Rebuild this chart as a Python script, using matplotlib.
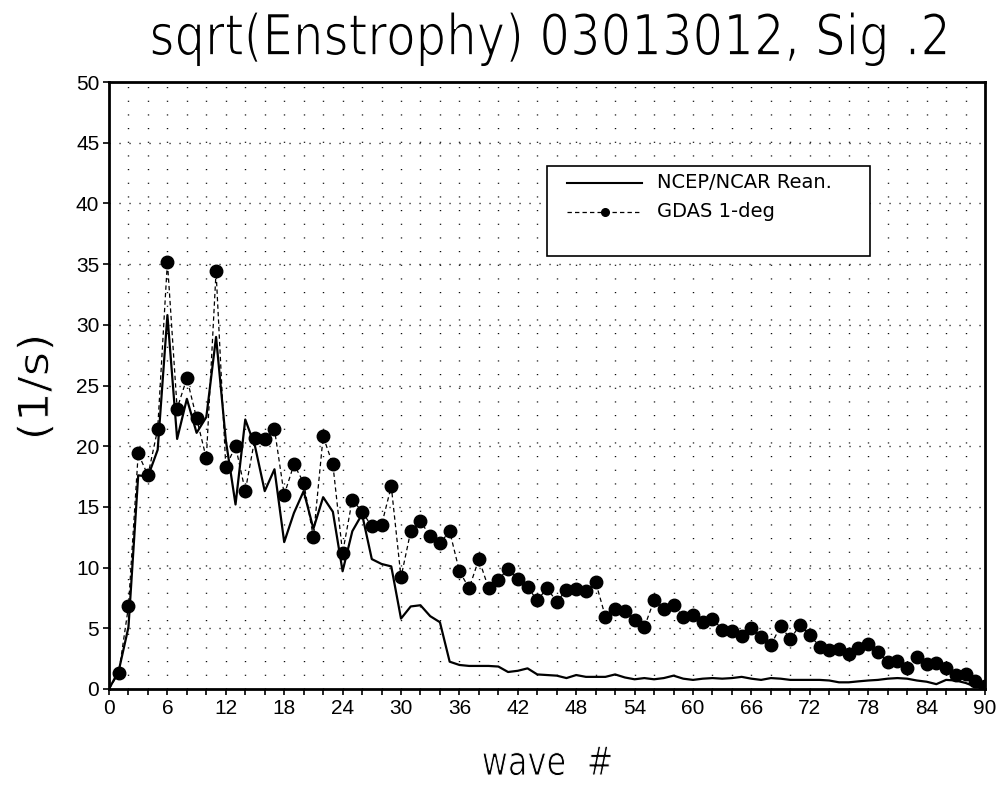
import matplotlib
matplotlib.use("Agg")
import matplotlib.pyplot as plt
from matplotlib import font_manager
from matplotlib.patches import Rectangle, PathPatch
from matplotlib.textpath import TextPath
from matplotlib.font_manager import FontProperties
from matplotlib.transforms import Affine2D, IdentityTransform

names = {f.name for f in font_manager.fontManager.ttflist}
REG = "Liberation Sans" if "Liberation Sans" in names else "DejaVu Sans"

# ── Data ──────────────────────────────────────────────────────────────────────
wave = list(range(0, 91))
ncep = [0, 1.5, 5.1, 17.6, 17.5, 19.7, 30.8, 20.6, 23.9, 21.1,
        22.4, 29.0, 20.5, 15.2, 22.2, 20.0, 16.3, 18.1, 12.1, 14.5,
        16.3, 13.2, 15.8, 14.6, 9.7, 13.0, 14.4, 10.7, 10.3, 10.1,
        5.8, 6.8, 6.9, 6.0, 5.5, 2.25, 1.98, 1.9, 1.9, 1.9,
        1.85, 1.4, 1.5, 1.7, 1.2, 1.15, 1.1, 0.9, 1.15, 1.0,
        1.0, 1.0, 1.2, 0.95, 0.8, 0.9, 0.8, 0.9, 1.1, 0.85,
        0.75, 0.85, 0.9, 0.85, 0.9, 1.0, 0.85, 0.75, 0.9, 0.85,
        0.75, 0.75, 0.75, 0.75, 0.7, 0.55, 0.55, 0.63, 0.7, 0.75,
        0.85, 0.9, 0.85, 0.7, 0.6, 0.4, 0.75, 0.7, 0.5, 0.2,
        0.0]
gdas = [0, 1.3, 6.8, 19.4, 17.6, 21.4, 35.2, 23.1, 25.6, 22.3,
        19.0, 34.4, 18.3, 20.0, 16.3, 20.7, 20.6, 21.4, 16.0, 18.5,
        17.0, 12.5, 20.8, 18.5, 11.2, 15.6, 14.6, 13.4, 13.5, 16.7,
        9.2, 13.0, 13.8, 12.6, 12.0, 13.0, 9.7, 8.3, 10.7, 8.3,
        9.0, 9.9, 9.1, 8.4, 7.3, 8.3, 7.2, 8.15, 8.2, 8.07,
        8.8, 5.96, 6.6, 6.4, 5.7, 5.1, 7.3, 6.6, 6.9, 5.96,
        6.1, 5.5, 5.8, 4.9, 4.8, 4.4, 5.0, 4.25, 3.6, 5.2,
        4.1, 5.3, 4.45, 3.5, 3.2, 3.3, 2.86, 3.4, 3.7, 3.07,
        2.2, 2.3, 1.75, 2.6, 2.06, 2.17, 1.7, 1.15, 1.2, 0.66,
        0.25]
xticks_major = list(range(0, 91, 6))
xticks_minor = list(range(0, 91, 2))
yticks = list(range(0, 51, 5))

W, H = 1001, 788

# ── Figure ────────────────────────────────────────────────────────────────────
fig = plt.figure(figsize=(W / 100, H / 100), dpi=100)
ax = fig.add_axes([109 / W, 1 - 689 / H, 876 / W, 607 / H])
ax.set_xlim(0, 90)
ax.set_ylim(0, 50)


def thin_text(s, cx, y, size_px, width_px, rot=0, erode=1.0):
    """Text as a path, squeezed to a width and thinned with a white edge.
    y is the baseline (rot=0) or the centre (rot=90), pixels from the top."""
    tp = TextPath((0, 0), s, size=size_px, prop=FontProperties(family="DejaVu Sans"))
    ext = tp.get_extents()
    sx = width_px / ext.width
    if rot == 0:
        tr = Affine2D().translate(-ext.x0 - ext.width / 2, 0).scale(sx, 1) \
            .translate(cx, H - y)
    else:
        tr = Affine2D().translate(-ext.x0 - ext.width / 2, -ext.y0 - ext.height / 2) \
            .scale(sx, 1).rotate_deg(rot).translate(cx, H - y)
    fig.patches.append(PathPatch(tp, transform=tr + IdentityTransform(),
                                 facecolor="black", edgecolor="white", lw=erode,
                                 figure=fig))


# dotted grid
for gx in xticks_minor[1:-1]:
    ax.axvline(gx, color="black", lw=1.0, linestyle=(0, (0.8, 9.04)), zorder=1)
for gy in yticks[1:-1]:
    ax.axhline(gy, color="black", lw=1.0, linestyle=(0, (0.8, 6.4)), zorder=1)

ax.plot(wave, ncep, color="black", lw=1.6, zorder=3)
ax.plot(wave, gdas, color="black", lw=0.9, dashes=(3.5, 2.5), marker="o",
        markersize=9, markevery=slice(1, None), zorder=4)

for s in ax.spines.values():
    s.set_linewidth(2.0)

ax.set_xticks(xticks_minor, minor=True)
ax.set_xticks(xticks_major)
ax.set_yticks(yticks)
ax.tick_params(axis="both", which="both", direction="out", length=4, width=1.2)
ax.tick_params(axis="both", which="major", labelsize=15, pad=3)
for lbl in ax.get_xticklabels() + ax.get_yticklabels():
    lbl.set_fontfamily(REG)

# ── Legend (drawn by hand) ───────────────────────────────────────────────────
T = ax.transAxes
ax.add_patch(Rectangle((0.5, 0.7133), 0.3687, 0.1483, transform=T,
                       facecolor="white", edgecolor="black", lw=1.2, zorder=5))
ax.plot([0.5228, 0.6085], [0.8341, 0.8341], transform=T, color="black", lw=1.5, zorder=6)
ax.plot([0.5228, 0.6085], [0.7863, 0.7863], transform=T, color="black", lw=0.9,
        dashes=(3.5, 2.5), zorder=6)
ax.plot([0.5662], [0.7863], transform=T, color="black", marker="o", markersize=5.5, zorder=6)
ax.text(0.6256, 0.8341, "NCEP/NCAR Rean.", transform=T, fontsize=14,
        family="DejaVu Sans", va="center", ha="left", zorder=6)
ax.text(0.6256, 0.7863, "GDAS 1-deg", transform=T, fontsize=14,
        family="DejaVu Sans", va="center", ha="left", zorder=6)

# ── Labels ────────────────────────────────────────────────────────────────────
thin_text("sqrt(Enstrophy) 03013012, Sig .2", 549, 55, 57, 794, erode=1.2)
thin_text("wave  #", 547, 775, 40, 128, erode=0.7)
thin_text("(1/s)", 35, 387, 42, 99, rot=90, erode=0.7)

fig.savefig("out.png", dpi=100, facecolor="white")
